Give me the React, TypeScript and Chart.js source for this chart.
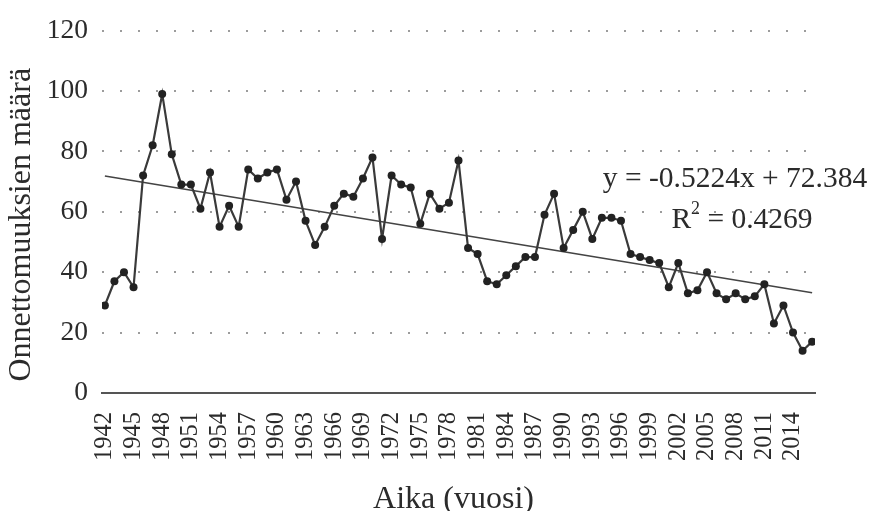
import React, { useEffect, useRef } from 'react';
import { Chart, registerables } from 'chart.js';

Chart.register(...registerables);

const years = [
  1942, 1943, 1944, 1945, 1946, 1947, 1948, 1949, 1950, 1951,
  1952, 1953, 1954, 1955, 1956, 1957, 1958, 1959, 1960, 1961,
  1962, 1963, 1964, 1965, 1966, 1967, 1968, 1969, 1970, 1971,
  1972, 1973, 1974, 1975, 1976, 1977, 1978, 1979, 1980, 1981,
  1982, 1983, 1984, 1985, 1986, 1987, 1988, 1989, 1990, 1991,
  1992, 1993, 1994, 1995, 1996, 1997, 1998, 1999, 2000, 2001,
  2002, 2003, 2004, 2005, 2006, 2007, 2008, 2009, 2010, 2011,
  2012, 2013, 2014, 2015, 2016,
];

const accidents = [
  29, 37, 40, 35, 72, 82, 99, 79, 69, 69,
  61, 73, 55, 62, 55, 74, 71, 73, 74, 64,
  70, 57, 49, 55, 62, 66, 65, 71, 78, 51,
  72, 69, 68, 56, 66, 61, 63, 77, 48, 46,
  37, 36, 39, 42, 45, 45, 59, 66, 48, 54,
  60, 51, 58, 58, 57, 46, 45, 44, 43, 35,
  43, 33, 34, 40, 33, 31, 33, 31, 32, 36,
  23, 29, 20, 14, 17,
];

const tickYears = [
  1942, 1945, 1948, 1951, 1954, 1957, 1960, 1963, 1966, 1969, 1972, 1975,
  1978, 1981, 1984, 1987, 1990, 1993, 1996, 1999, 2002, 2005, 2008, 2011, 2014,
];

const trendSlope = -0.5224;
const trendIntercept = 72.384;
const equationText = 'y = -0.5224x + 72.384';
const r2Text = '0.4269';
const xTitle = 'Aika (vuosi)';
const yTitle = 'Onnettomuuksien määrä';

const SERIF = '"Liberation Serif", "Times New Roman", serif';
const TEXT_COLOR = '#2b2b2b';

const textPlugin = {
  id: 'extraText',
  afterDraw(chart: any) {
    const { ctx, chartArea, height } = chart;
    ctx.save();
    ctx.fillStyle = TEXT_COLOR;
    ctx.textBaseline = 'middle';

    // y-axis title
    ctx.save();
    ctx.translate(22, (chartArea.top + chartArea.bottom) / 2 + 13);
    ctx.rotate(-Math.PI / 2);
    ctx.textAlign = 'center';
    ctx.font = `32px ${SERIF}`;
    ctx.fillText(yTitle, 0, 0);
    ctx.restore();

    // x-axis title
    ctx.textAlign = 'center';
    ctx.font = `32px ${SERIF}`;
    ctx.fillText(xTitle, (chartArea.left + chartArea.right) / 2 - 5, height - 11);

    // regression equation
    ctx.font = `29.5px ${SERIF}`;
    ctx.textAlign = 'center';
    ctx.fillText(equationText, chartArea.right - 80, chartArea.top + 149);

    // R² = ...
    const cx2 = chartArea.right - 73;
    const cy2 = chartArea.top + 190;
    ctx.textAlign = 'left';
    const bigFont = `29.5px ${SERIF}`;
    const smallFont = `18px ${SERIF}`;
    ctx.font = bigFont;
    const wR = ctx.measureText('R').width;
    const rest = ' = ' + r2Text;
    const wRest = ctx.measureText(rest).width;
    ctx.font = smallFont;
    const w2 = ctx.measureText('2').width;
    const total = wR + w2 + wRest;
    let x = cx2 - total / 2;
    ctx.font = bigFont;
    ctx.fillText('R', x, cy2);
    x += wR;
    ctx.font = smallFont;
    ctx.fillText('2', x, cy2 - 11);
    x += w2;
    ctx.font = bigFont;
    ctx.fillText(rest, x, cy2);
    ctx.restore();
  },
};

export default function App() {
  const canvasRef = useRef<HTMLCanvasElement | null>(null);

  useEffect(() => {
    if (!canvasRef.current) return;
    const first = years[0];
    const last = years[years.length - 1];
    const trendData = [
      { x: first, y: trendSlope * 1 + trendIntercept },
      { x: last, y: trendSlope * years.length + trendIntercept },
    ];

    const chart = new Chart(canvasRef.current, {
      type: 'line',
      data: {
        datasets: [
          {
            label: 'Onnettomuudet',
            data: years.map((yr, i) => ({ x: yr, y: accidents[i] })),
            borderColor: '#3a3a3a',
            borderWidth: 2.2,
            pointRadius: 4,
            pointBackgroundColor: '#222',
            pointBorderColor: '#222',
            pointBorderWidth: 0,
            tension: 0,
          },
          {
            label: 'Trendi',
            data: trendData,
            borderColor: '#444',
            borderWidth: 1.6,
            pointRadius: 0,
            tension: 0,
          },
        ],
      },
      options: {
        animation: false,
        responsive: true,
        maintainAspectRatio: false,
        layout: { padding: { top: 23, right: 54, left: 0, bottom: 0 } },
        plugins: {
          legend: { display: false },
          tooltip: { enabled: false },
        },
        scales: {
          x: {
            type: 'linear',
            min: 1941.7,
            max: 2016.3,
            afterBuildTicks: (scale: any) => {
              scale.ticks = tickYears.map((v) => ({ value: v }));
            },
            afterFit: (scale: any) => {
              scale.height = 118;
            },
            grid: { display: false, drawTicks: false },
            border: { display: true, color: '#555', width: 2 },
            ticks: {
              autoSkip: false,
              minRotation: 90,
              maxRotation: 90,
              padding: 19,
              color: TEXT_COLOR,
              font: { family: SERIF, size: 24.5 },
              callback: (v: any) => String(v),
            },
            title: { display: false },
          },
          y: {
            min: 0,
            max: 120,
            afterFit: (scale: any) => {
              scale.width = 102;
            },
            ticks: {
              stepSize: 20,
              padding: 14,
              color: TEXT_COLOR,
              font: { family: SERIF, size: 27.5 },
            },
            grid: {
              drawTicks: false,
              lineWidth: 2,
              color: (ctx: any) => (ctx.tick && ctx.tick.value === 0 ? 'rgba(0,0,0,0)' : '#9c9c9c'),
            },
            border: { display: false, dash: [2, 16] },
            title: { display: false },
          },
        },
      },
      plugins: [textPlugin],
    } as any);

    return () => chart.destroy();
  }, []);

  return (
    <div style={{ position: 'fixed', left: 0, top: 0, width: 869, height: 511, background: '#fff' }}>
      <canvas ref={canvasRef} />
    </div>
  );
}
